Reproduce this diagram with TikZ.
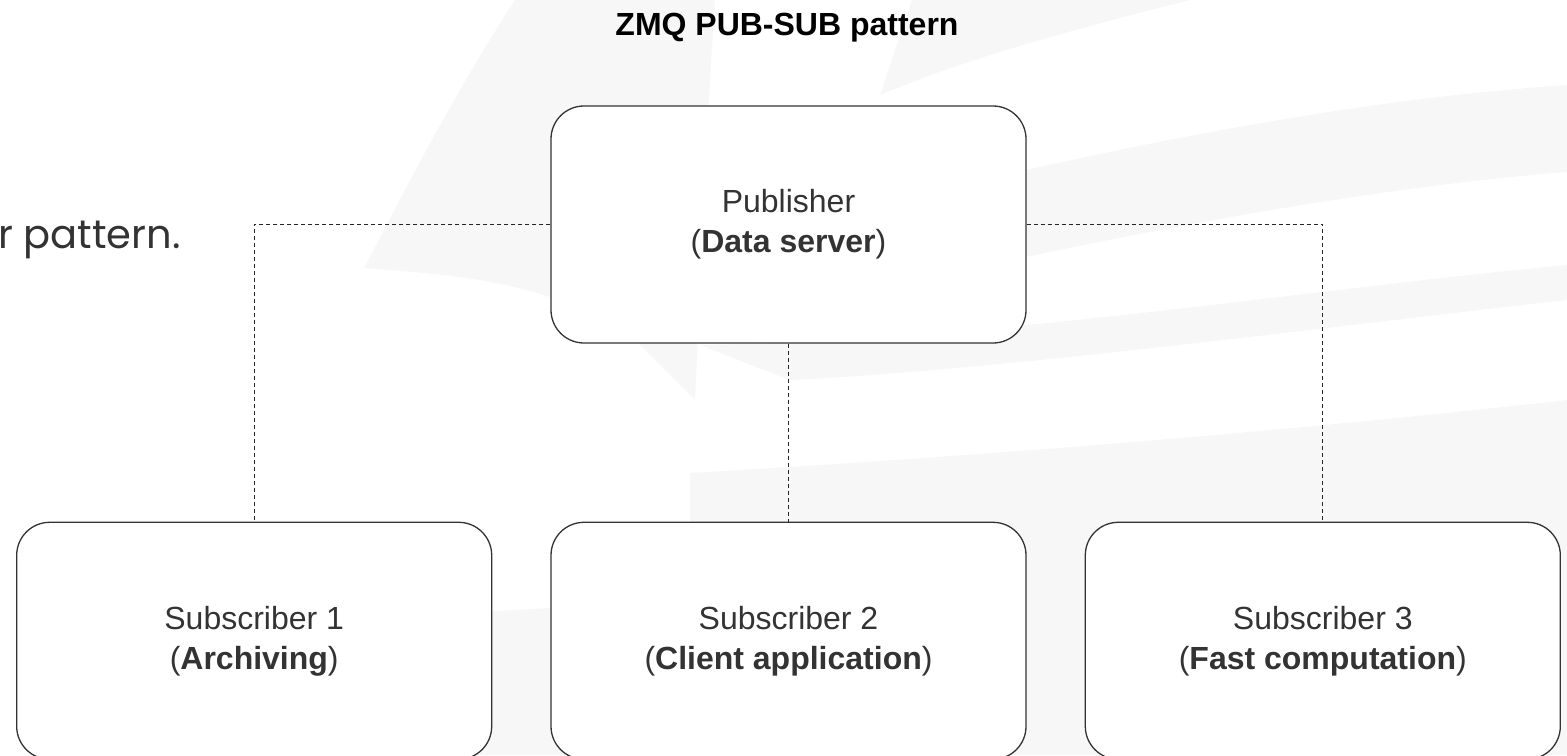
\documentclass[tikz,border=0pt]{standalone}
\usepackage{fontspec}
\setmainfont{Liberation Sans}
\newfontfamily\poppinsfont{Poppins}
\usetikzlibrary{positioning}

\definecolor{boxline}{HTML}{333333}
\definecolor{textgray}{HTML}{333333}
\definecolor{logogray}{HTML}{F7F7F7}

\begin{document}
\begin{tikzpicture}[
    x=0.5pt, y=-0.5pt, % one unit is one pixel of the screenshot
    node distance=89pt and 29pt, % vertical and horizontal spacing
    every node/.style={font=\fontsize{16}{20}\selectfont, text=textgray},
    unit/.style={draw=boxline, line width=0.65pt, fill=white, rounded corners=16.5pt,
        minimum width=237.5pt, minimum height=118.5pt, align=center, inner sep=0pt},
    link/.style={draw=black!85, line width=0.5pt, dash pattern=on 2pt off 1.5pt}
]
    \useasboundingbox (0,0) rectangle (1567,755);

    % Faint logo behind the diagram
    \fill[logogray] (515,0) .. controls (450,100) and (400,200) .. (364,268)
        .. controls (450,275) and (560,280) .. (640,345) -- (695,400)
        .. controls (700,300) and (705,150) .. (715,0) -- cycle;
    \fill[logogray] (880,95) .. controls (895,50) .. (912,0) -- (1190,0)
        .. controls (1050,35) and (950,65) .. (880,95) -- cycle;
    \fill[logogray] (1026,170) .. controls (1250,120) and (1420,95) .. (1567,85)
        -- (1567,172) .. controls (1400,185) and (1200,220) .. (1026,257) -- cycle;
    \fill[logogray] (700,345) .. controls (1000,340) and (1300,290) .. (1567,265)
        -- (1567,300) .. controls (1300,330) and (1000,370) .. (790,380) -- cycle;
    \fill[logogray] (690,473) .. controls (1000,455) and (1300,430) .. (1567,400)
        -- (1567,755) -- (480,755) -- (480,612) -- (690,600) -- cycle;

    % Cut-off text at the left edge
    \begin{scope}
        \clip (0,0) rectangle (1567,755);
        \node[anchor=base east, inner sep=0pt, font=\poppinsfont\fontsize{20}{24}\selectfont] (caption) at (181,248) {r pattern.};
    \end{scope}

    % Place the nodes
    \node[anchor=base, font=\bfseries\fontsize{16}{20}\selectfont, text=black] (title) at (787,35) {ZMQ PUB-SUB pattern};
    \node[unit] (pub) at (788.5,224.5) {Publisher\\(\textbf{Data server})};
    \node[unit] (sub2) [below=of pub] {Subscriber 2\\(\textbf{Client application})};
    \node[unit] (sub1) [left=of sub2] {Subscriber 1\\(\textbf{Archiving})};
    \node[unit] (sub3) [right=of sub2] {Subscriber 3\\(\textbf{Fast computation})};

    % Draw the links (dashed, no arrow tips)
    \draw[link] (pub.west) -| (sub1.north);
    \draw[link] (pub.south) -- (sub2.north);
    \draw[link] (pub.east) -| (sub3.north);
\end{tikzpicture}
\end{document}
